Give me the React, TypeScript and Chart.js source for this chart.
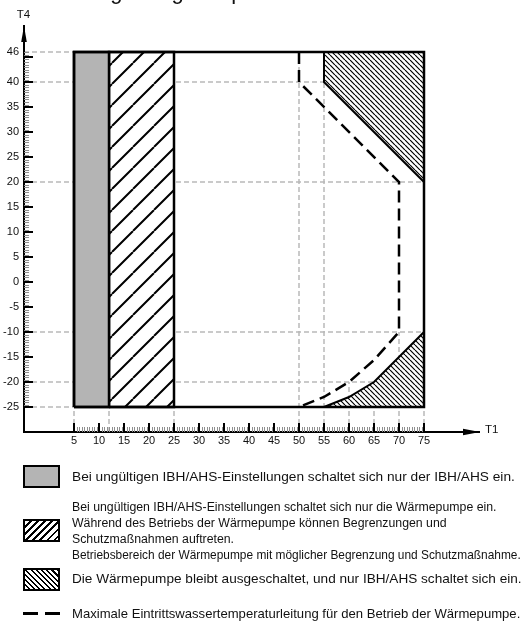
import React, { useEffect, useRef } from 'react';
import { Chart, registerables } from 'chart.js';

Chart.register(...registerables);

const FONT = "'Liberation Sans', Arial, Helvetica, sans-serif";

// ---- axis ranges / ticks ----
const X_MIN = -5;
const X_MAX = 86;
const Y_MIN = -30;
const Y_MAX = 51.2;
const xTickLabels = [5, 10, 15, 20, 25, 30, 35, 40, 45, 50, 55, 60, 65, 70, 75];
const yTickLabels = [46, 40, 35, 30, 25, 20, 15, 10, 5, 0, -5, -10, -15, -20, -25];
const yMajorMarks = [45, 40, 35, 30, 25, 20, 15, 10, 5, 0, -5, -10, -15, -20, -25];
const xMajorMarks = xTickLabels;

// ---- regions (T1 = x, T4 = y) ----
const grayT1 = [5, 12, 12, 5, 5];
const grayT4 = [-25, -25, 46, 46, -25];
const hatchT1 = [12, 25, 25, 12, 12];
const hatchT4 = [-25, -25, 46, 46, -25];
const offUpperT1 = [55, 55, 75, 75, 55];
const offUpperT4 = [46, 40, 20, 46, 46];
const offLowerT1 = [55, 60, 65, 75, 75, 55];
const offLowerT4 = [-25, -23, -20, -10, -25, -25];
const frameT1 = [5, 75, 75, 5, 5];
const frameT4 = [-25, -25, 46, 46, -25];
const maxLineT1 = [50, 50, 70, 70, 65, 60, 55, 50];
const maxLineT4 = [46, 40, 20, -10, -15.6, -20, -23, -25];

// ---- reference (projection) lines ----
const gridY = [46, 40, 20, -10, -20, -25];
const gridYTo = [5, 55, 75, 75, 65, 5];
const gridX = [5, 12, 25, 50, 55, 60, 65, 70, 75];
const gridXTo = [-25, -25, -25, 46, 40, -20, -20, -10, -25];

// ---- legend texts ----
const legendText1 = 'Bei ungültigen IBH/AHS-Einstellungen schaltet sich nur der IBH/AHS ein.';
const legendText2 = [
  'Bei ungültigen IBH/AHS-Einstellungen schaltet sich nur die Wärmepumpe ein.',
  'Während des Betriebs der Wärmepumpe können Begrenzungen und',
  'Schutzmaßnahmen auftreten.',
];
const legendText2b = 'Betriebsbereich der Wärmepumpe mit möglicher Begrenzung und Schutzmaßnahme.';
const legendText3 = 'Die Wärmepumpe bleibt ausgeschaltet, und nur IBH/AHS schaltet sich ein.';
const legendText4 = 'Maximale Eintrittswassertemperaturleitung für den Betrieb der Wärmepumpe.';
const titleText = 'Umgebungstemperatur';

const GRID = '#b9b9b9';
const GRAY = '#b4b4b4';

function makeHatch(ctx: CanvasRenderingContext2D, size: number, lw: number, dir: string, shift: number) {
  const c = document.createElement('canvas');
  c.width = size;
  c.height = size;
  const g = c.getContext('2d')!;
  g.fillStyle = '#fff';
  g.fillRect(0, 0, size, size);
  g.strokeStyle = '#000';
  g.lineWidth = lw;
  g.beginPath();
  for (let k = -1; k <= 1; k++) {
    if (dir === '/') {
      g.moveTo(k * size, size);
      g.lineTo(k * size + size, 0);
    } else {
      g.moveTo(k * size, 0);
      g.lineTo(k * size + size, size);
    }
  }
  g.stroke();
  const p = ctx.createPattern(c, 'repeat')!;
  try {
    p.setTransform(new DOMMatrix([1, 0, 0, 1, shift, 0]));
  } catch (e) {}
  return p;
}

const pts = (xs: number[], ys: number[]) => xs.map((x, i) => ({ x, y: ys[i] }));

const decorPlugin = {
  id: 'decor',
  afterDraw(chart: any) {
    const { ctx, chartArea: ca } = chart;
    const x = chart.scales.x;
    const y = chart.scales.y;
    ctx.save();
    // minor ticks
    ctx.strokeStyle = '#8e8e8e';
    ctx.lineWidth = 1;
    ctx.beginPath();
    for (let v = -25; v <= 46; v += 0.5) {
      if (v % 5 === 0) continue;
      const py = Math.round(y.getPixelForValue(v)) + 0.5;
      ctx.moveTo(ca.left, py);
      ctx.lineTo(ca.left + 5, py);
    }
    for (let v = 5; v <= 75; v += 0.5) {
      if (v % 5 === 0) continue;
      const px = Math.round(x.getPixelForValue(v)) + 0.5;
      ctx.moveTo(px, ca.bottom);
      ctx.lineTo(px, ca.bottom - 5);
    }
    ctx.stroke();
    // major ticks
    ctx.strokeStyle = '#000';
    ctx.lineWidth = 2;
    ctx.beginPath();
    yMajorMarks.forEach((v) => {
      const py = Math.round(y.getPixelForValue(v));
      ctx.moveTo(ca.left, py);
      ctx.lineTo(ca.left + 9, py);
    });
    xMajorMarks.forEach((v) => {
      const px = Math.round(x.getPixelForValue(v));
      ctx.moveTo(px, ca.bottom);
      ctx.lineTo(px, ca.bottom - 9);
    });
    ctx.stroke();
    // arrows
    ctx.fillStyle = '#000';
    ctx.beginPath();
    ctx.moveTo(ca.left, ca.top);
    ctx.lineTo(ca.left - 2.8, ca.top + 16);
    ctx.lineTo(ca.left + 2.8, ca.top + 16);
    ctx.closePath();
    ctx.fill();
    ctx.beginPath();
    ctx.moveTo(ca.right + 1, ca.bottom);
    ctx.lineTo(ca.right - 16, ca.bottom - 3.2);
    ctx.lineTo(ca.right - 16, ca.bottom + 3.2);
    ctx.closePath();
    ctx.fill();
    // axis names
    ctx.font = `11.5px ${FONT}`;
    ctx.fillStyle = '#111';
    ctx.textBaseline = 'alphabetic';
    ctx.textAlign = 'center';
    ctx.fillText('T4', ca.left - 0.5, 18.3);
    ctx.textAlign = 'left';
    ctx.fillText('T1', ca.right + 6, ca.bottom + 1.3);
    ctx.restore();
  },
};

export default function App() {
  const ref = useRef<HTMLCanvasElement>(null);

  useEffect(() => {
    document.body.style.margin = '0';
    const canvas = ref.current!;
    const ctx = canvas.getContext('2d')!;
    const wide = makeHatch(ctx, 21, 2, '/', 7);
    const dense = makeHatch(ctx, 5, 1.2, '\\', 0);

    const line = (extra: any) => ({ pointRadius: 0, tension: 0, fill: false, ...extra });

    const datasets: any[] = [
      ...gridY.map((v, i) =>
        line({ data: [{ x: X_MIN, y: v }, { x: gridYTo[i], y: v }], borderColor: GRID, borderWidth: 1.5, borderDash: [5, 3], order: 40 })
      ),
      ...gridX.map((v, i) =>
        line({ data: [{ x: v, y: Y_MIN }, { x: v, y: gridXTo[i] }], borderColor: GRID, borderWidth: 1.5, borderDash: [5, 3], order: 40 })
      ),
      line({ data: pts(grayT1, grayT4), backgroundColor: GRAY, borderColor: '#000', borderWidth: 2.5, fill: 'shape', order: 30 }),
      line({ data: pts(hatchT1, hatchT4), backgroundColor: wide, borderColor: '#000', borderWidth: 2.5, fill: 'shape', order: 30 }),
      line({ data: pts(offUpperT1, offUpperT4), backgroundColor: dense, borderColor: '#000', borderWidth: 2, fill: 'shape', order: 30 }),
      line({ data: pts(offLowerT1, offLowerT4), backgroundColor: dense, borderColor: '#000', borderWidth: 2, fill: 'shape', order: 30 }),
      line({ data: pts(frameT1, frameT4), borderColor: '#000', borderWidth: 2.5, order: 10 }),
      line({ data: pts(maxLineT1, maxLineT4), borderColor: '#000', borderWidth: 2.5, borderDash: [12, 6], order: 5 }),
    ];

    const tickFont = { family: FONT, size: 11 };
    const chart = new Chart(canvas, {
      type: 'line',
      data: { datasets },
      plugins: [decorPlugin],
      options: {
        responsive: false,
        animation: false,
        events: [],
        layout: { padding: { top: 26, right: 43, bottom: 171, left: 0 }, autoPadding: false },
        plugins: { legend: { display: false }, tooltip: { enabled: false }, title: { display: false } },
        scales: {
          x: {
            type: 'linear',
            min: X_MIN,
            max: X_MAX,
            afterFit: (s: any) => {
              s.height = 20;
            },
            afterBuildTicks: (s: any) => {
              s.ticks = xTickLabels.map((v) => ({ value: v }));
            },
            grid: { display: false, drawTicks: false },
            border: { display: true, color: '#000', width: 2, z: 1 },
            ticks: { autoSkip: false, maxRotation: 0, padding: 2, color: '#111', font: tickFont, callback: (v: any) => String(v) },
          },
          y: {
            type: 'linear',
            min: Y_MIN,
            max: Y_MAX,
            afterFit: (s: any) => {
              s.width = 24;
            },
            afterBuildTicks: (s: any) => {
              s.ticks = yTickLabels.map((v) => ({ value: v }));
            },
            grid: { display: false, drawTicks: false },
            border: { display: true, color: '#000', width: 2, z: 1 },
            ticks: { autoSkip: false, padding: 5, color: '#111', font: tickFont, callback: (v: any) => String(v) },
          },
        },
      } as any,
    });
    return () => chart.destroy();
  }, []);

  const txt = (size: number): React.CSSProperties => ({
    position: 'absolute',
    left: 72,
    fontFamily: FONT,
    fontSize: size,
    lineHeight: `${size}px`,
    whiteSpace: 'nowrap',
    color: '#111',
  });
  const swatch: React.CSSProperties = {
    position: 'absolute',
    left: 23,
    width: 37,
    height: 23,
    boxSizing: 'border-box',
    border: '2px solid #000',
  };

  return (
    <div style={{ position: 'relative', width: 522, height: 623, overflow: 'hidden', background: '#fff' }}>
      <canvas ref={ref} width={522} height={623} style={{ position: 'absolute', left: 0, top: 0, display: 'block' }} />
      <div style={{ position: 'absolute', left: 76, top: -19, fontFamily: FONT, fontSize: 22, lineHeight: '22px', whiteSpace: 'nowrap', color: '#111' }}>
        {titleText}
      </div>

      <div style={{ ...swatch, top: 465, background: GRAY }} />
      <div style={{ ...txt(13.7), top: 470.4 }}>{legendText1}</div>

      <div style={{ ...swatch, top: 519, background: 'repeating-linear-gradient(135deg, #fff 0 3.3px, #000 3.3px 5px)' }} />
      <div style={{ ...txt(12.3), top: 498.5, lineHeight: '16.4px' }}>
        {legendText2.map((t, i) => (
          <div key={i}>{t}</div>
        ))}
      </div>
      <div style={{ ...txt(11.9), top: 550 }}>{legendText2b}</div>

      <div style={{ ...swatch, top: 568, background: 'repeating-linear-gradient(45deg, #fff 0 2.2px, #000 2.2px 3.7px)' }} />
      <div style={{ ...txt(13.6), top: 571.5 }}>{legendText3}</div>

      <div style={{ position: 'absolute', left: 23, top: 612, width: 15, height: 2.5, background: '#000' }} />
      <div style={{ position: 'absolute', left: 45, top: 612, width: 15, height: 2.5, background: '#000' }} />
      <div style={{ ...txt(13.1), top: 607 }}>{legendText4}</div>
    </div>
  );
}
